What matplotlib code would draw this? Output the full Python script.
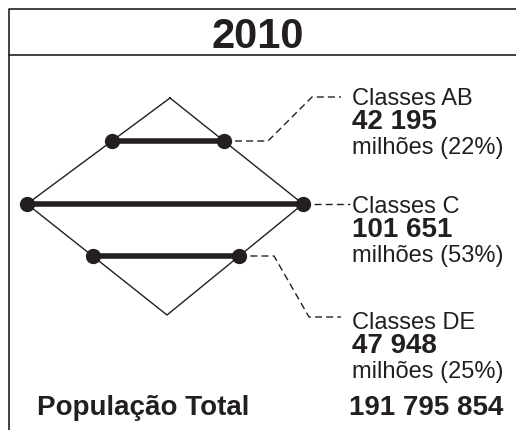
import matplotlib
matplotlib.use("Agg")
import matplotlib.pyplot as plt

plt.rcParams["font.family"] = ["Liberation Sans", "DejaVu Sans"]

year = "2010"
classes = ["Classes AB", "Classes C", "Classes DE"]
values = ["42 195", "101 651", "47 948"]
shares = [22, 53, 25]
total_label = "População Total"
total_value = "191 795 854"

ink = "#231f20"

# diamond vertices (pixel coords, y down)
top = (170, 98)
left = (27, 204)
right = (303, 204)
bottom = (167, 315)
# y level of each class bar
levels = [141, 204, 256]


def edge_x(p, q, y):
    t = (y - p[1]) / (q[1] - p[1])
    return p[0] + t * (q[0] - p[0])


fig = plt.figure(figsize=(5.16, 4.30), dpi=100)
ax = fig.add_axes([0, 0, 1, 1])
ax.set_xlim(0, 516)
ax.set_ylim(430, 0)
ax.set_axis_off()

# frame
ax.plot([8.5, 8.5, 516], [430, 9, 9], color=ink, lw=1.2, solid_capstyle="butt")
ax.plot([8.5, 516], [55, 55], color=ink, lw=1.2)
ax.text(258, 48, year, ha="center", va="baseline", fontsize=30,
        fontweight="bold", color=ink)

# diamond outline
xs = [top[0], right[0], bottom[0], left[0], top[0]]
ys = [top[1], right[1], bottom[1], left[1], top[1]]
ax.plot(xs, ys, color=ink, lw=1.0)

ends = []
for y in levels:
    if y <= left[1]:
        x0 = edge_x(top, left, y)
        x1 = edge_x(top, right, y)
    else:
        x0 = edge_x(left, bottom, y)
        x1 = edge_x(right, bottom, y)
    ax.plot([x0, x1], [y, y], color=ink, lw=4, solid_capstyle="butt")
    ax.plot([x0, x1], [y, y], "o", color=ink, ms=10)
    ends.append((x1, y))

# leader lines
text_x = 352
label_top = [105, 213, 329]
leaders = [
    [ends[0], (268, ends[0][1]), (312, 97), (341, 97)],
    [ends[1], (350, ends[1][1])],
    [ends[2], (274, ends[2][1]), (309, 317), (341, 317)],
]
for pts in leaders:
    ax.plot([p[0] for p in pts], [p[1] for p in pts], color=ink, lw=1.0,
            dashes=(5, 3))

for name, val, sh, yb in zip(classes, values, shares, label_top):
    ax.text(text_x, yb, name, ha="left", va="baseline", fontsize=17, color=ink)
    ax.text(text_x, yb + 24, val, ha="left", va="baseline", fontsize=20,
            fontweight="bold", color=ink)
    ax.text(text_x, yb + 49, f"milhões ({sh}%)", ha="left", va="baseline",
            fontsize=17, color=ink)

ax.text(37, 415, total_label, ha="left", va="baseline", fontsize=20,
        fontweight="bold", color=ink)
ax.text(503, 415, total_value, ha="right", va="baseline", fontsize=20,
        fontweight="bold", color=ink)

fig.savefig("out.png", dpi=100)
